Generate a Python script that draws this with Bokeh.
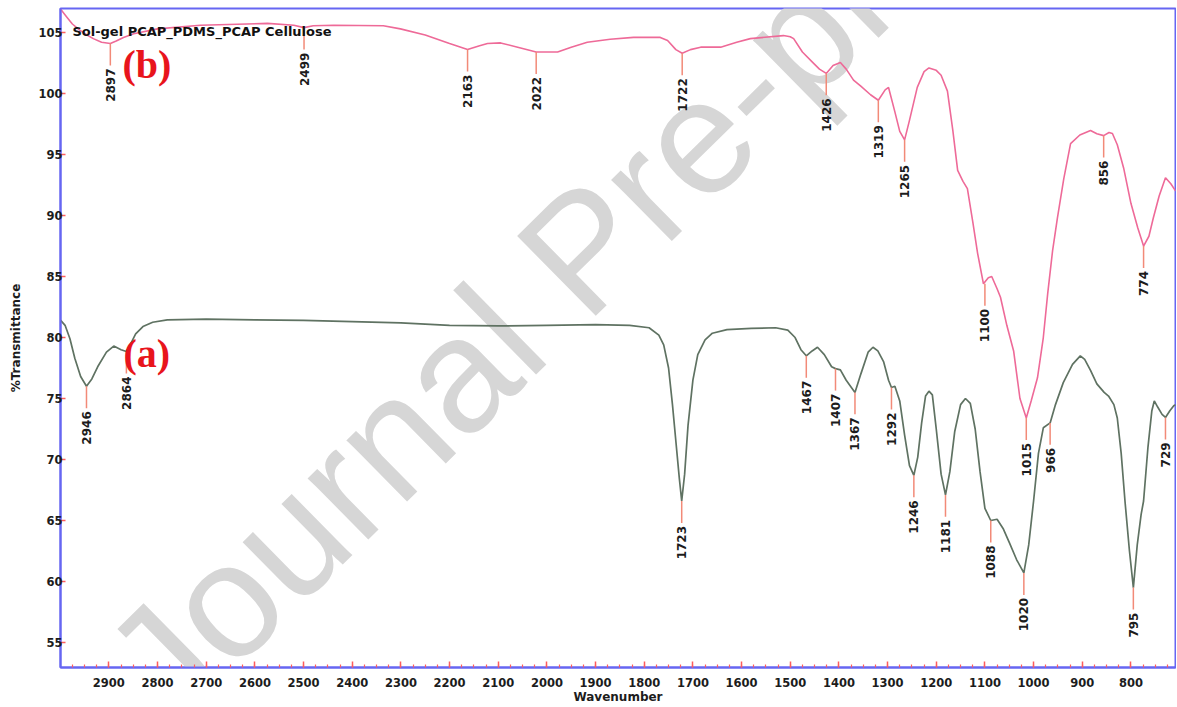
from bokeh.plotting import figure
from bokeh.models import Range1d, SingleIntervalTicker, FixedTicker, Label, ColumnDataSource
from bokeh.embed import file_html
from bokeh.resources import INLINE
from bokeh.core.properties import value
import math

# ---- (a) spectrum: wavenumber / %T ----
wn_a = [2999, 2990, 2980, 2970, 2958, 2946, 2935, 2923, 2905, 2890, 2875, 2864, 2855, 2845,
        2830, 2810, 2780, 2700, 2600, 2500, 2400, 2300, 2200, 2100, 2000, 1900, 1830, 1790,
        1770, 1760, 1750, 1742, 1735, 1728, 1723, 1717, 1710, 1700, 1690, 1675, 1660, 1630,
        1580, 1530, 1505, 1490, 1478, 1467, 1455, 1444, 1430, 1415, 1407, 1397, 1385, 1367,
        1355, 1340, 1330, 1320, 1308, 1298, 1292, 1285, 1275, 1265, 1255, 1246, 1238, 1230,
        1222, 1215, 1208, 1200, 1190, 1181, 1172, 1162, 1150, 1140, 1130, 1120, 1110, 1100,
        1088, 1075, 1062, 1050, 1035, 1020, 1010, 1000, 990, 980, 966, 955, 939, 920, 904,
        895, 883, 870, 855, 846, 835, 828, 820, 812, 803, 795, 787, 779, 774, 765, 757, 752,
        745, 736, 729, 720, 712, 708]
t_a = [81.4, 81.0, 79.9, 78.3, 76.8, 76.0, 76.6, 77.6, 78.8, 79.3, 79.0, 78.85, 79.5, 80.3,
       80.9, 81.25, 81.45, 81.5, 81.45, 81.4, 81.3, 81.2, 81.0, 80.95, 81.0, 81.05, 81.0, 80.8,
       80.2, 79.4, 77.5, 74.5, 71.5, 68.5, 66.6, 68.8, 72.8, 76.5, 78.6, 79.8, 80.35, 80.65,
       80.75, 80.8, 80.6, 80.0, 79.0, 78.5, 78.9, 79.2, 78.6, 77.6, 77.45, 77.35, 76.5, 75.5,
       77.0, 78.8, 79.2, 78.9, 78.0, 76.5, 75.9, 76.0, 74.8, 72.0, 69.5, 68.7, 70.2, 73.0,
       75.2, 75.6, 75.3, 72.5, 68.8, 67.1, 69.0, 72.3, 74.5, 75.0, 74.6, 72.5, 69.0, 66.0,
       65.0, 65.1, 64.3, 63.2, 61.8, 60.7, 63.0, 66.6, 70.5, 72.6, 73.0, 74.5, 76.3, 77.8, 78.5,
       78.2, 77.3, 76.2, 75.5, 75.2, 74.5, 73.4, 70.5, 66.5, 62.5, 59.5, 63.0, 65.5, 66.6, 71.0, 74.0, 74.8,
       74.3, 73.7, 73.45, 74.0, 74.4, 74.5]

# ---- (b) spectrum ----
wn_b = [2999, 2985, 2975, 2960, 2945, 2932, 2915, 2897, 2885, 2870, 2849, 2800, 2712, 2574,
        2520, 2499, 2480, 2438, 2336, 2301, 2250, 2200, 2163, 2140, 2122, 2095, 2060, 2022,
        1978, 1950, 1917, 1870, 1822, 1767, 1752, 1735, 1722, 1705, 1684, 1643, 1610, 1582,
        1514, 1500, 1493, 1475, 1455, 1440, 1426, 1412, 1397, 1385, 1370, 1355, 1335, 1319,
        1305, 1298, 1285, 1275, 1265, 1255, 1239, 1225, 1215, 1200, 1190, 1177, 1166, 1156,
        1145, 1136, 1125, 1115, 1103, 1093, 1086, 1075, 1068, 1055, 1041, 1028, 1015, 1005,
        992, 980, 971, 961, 951, 938, 924, 905, 883, 870, 856, 845, 838, 828, 815, 800, 786,
        774, 763, 754, 742, 729, 718, 708]
t_b = [106.9, 106.2, 105.7, 105.2, 104.8, 104.5, 104.2, 104.1, 104.3, 104.6, 104.9, 105.3,
       105.6, 105.75, 105.6, 105.4, 105.55, 105.6, 105.55, 105.3, 104.8, 104.1, 103.6, 103.9,
       104.1, 104.15, 103.8, 103.4, 103.4, 103.8, 104.2, 104.45, 104.6, 104.6, 104.35, 103.6,
       103.3, 103.6, 103.8, 103.8, 104.2, 104.5, 104.75, 104.65, 104.5, 103.4, 102.6, 102.0,
       101.65, 102.3, 102.55, 102.0, 101.1, 100.6, 99.9, 99.45, 100.3, 100.5, 98.5, 96.9,
       96.2, 97.8, 100.5, 101.8, 102.1, 101.9, 101.5, 100.2, 97.0, 93.7, 92.8, 92.2, 89.5,
       86.9, 84.4, 84.9, 85.0, 84.0, 83.3, 81.0, 78.9, 75.0, 73.4, 74.8, 76.7, 80.0, 83.6,
       87.1, 89.8, 93.0, 95.9, 96.6, 96.97, 96.7, 96.55, 96.8, 96.72, 95.8, 93.9, 91.0, 89.0,
       87.5, 88.3, 89.8, 91.6, 93.1, 92.6, 92.0]

# ---- peak picks ----
peaks_a_wn = [2946, 2864, 1723, 1467, 1407, 1367, 1292, 1246, 1181, 1088, 1020, 966, 795, 729]
peaks_a_t = [76.0, 78.85, 66.6, 78.5, 77.45, 75.5, 75.9, 68.7, 67.1, 65.0, 60.7, 73.0, 59.5, 73.45]
peaks_b_wn = [2897, 2499, 2163, 2022, 1722, 1426, 1319, 1265, 1100, 1015, 856, 774]
peaks_b_t = [104.1, 105.4, 103.6, 103.4, 103.3, 101.65, 99.45, 96.2, 84.4, 73.4, 96.55, 87.5]

y_ticks = [55, 60, 65, 70, 75, 80, 85, 90, 95, 100, 105]

title_text = "Sol-gel PCAP_PDMS_PCAP Cellulose"
x_title = "Wavenumber"
y_title = "%Transmittance"
watermark = "Journal Pre-proof"

BLUE = "#6666f2"
RED_TICK = "#ff5c5c"
LABEL_C = "#1c1c1c"
FONT = "DejaVu Sans"

p = figure(width=1176, height=706,
           x_range=Range1d(2999.4, 708.4), y_range=Range1d(52.95, 106.97),
           output_backend="svg", toolbar_location=None,
           min_border_left=60, min_border_right=1, min_border_top=8, min_border_bottom=39)
p.background_fill_color = "white"
p.border_fill_color = "white"
p.grid.visible = False
p.outline_line_color = BLUE
p.outline_line_width = 2

# axes
xa = p.xaxis[0]
xa.ticker = SingleIntervalTicker(interval=100, num_minor_ticks=4)
xa.axis_line_color = BLUE
xa.axis_line_width = 2
xa.major_tick_in = 6
xa.major_tick_out = 0
xa.minor_tick_in = 3
xa.minor_tick_out = 0
xa.major_tick_line_color = RED_TICK
xa.minor_tick_line_color = RED_TICK
xa.major_tick_line_width = 1.5
xa.minor_tick_line_width = 1.2
xa.major_label_standoff = 10
xa.major_label_text_font = FONT
xa.major_label_text_font_style = "bold"
xa.major_label_text_font_size = "11.5px"
xa.major_label_text_color = LABEL_C
xa.axis_label = x_title
xa.axis_label_standoff = 0
xa.axis_label_text_font = FONT
xa.axis_label_text_font_style = "bold"
xa.axis_label_text_font_size = "12px"
xa.axis_label_text_color = LABEL_C

ya = p.yaxis[0]
ya.ticker = FixedTicker(ticks=y_ticks)
ya.axis_line_color = BLUE
ya.axis_line_width = 2
ya.major_tick_in = 5
ya.major_tick_out = 0
ya.minor_tick_line_color = None
ya.major_tick_line_color = RED_TICK
ya.major_tick_line_width = 1.5
ya.major_label_standoff = -2
ya.major_label_text_font = FONT
ya.major_label_text_font_style = "bold"
ya.major_label_text_font_size = "11.5px"
ya.major_label_text_color = LABEL_C
ya.axis_label = y_title
ya.axis_label_standoff = 12
ya.axis_label_text_font = FONT
ya.axis_label_text_font_style = "bold"
ya.axis_label_text_font_size = "12px"
ya.axis_label_text_color = LABEL_C

# watermark (under the data)
p.add_layout(Label(x=2850, y=50.98, text=watermark, text_font="Liberation Sans",
                   text_font_size="163px", angle=0.777, text_color="#d6d6d6",
                   text_baseline="alphabetic", level="underlay"))

# spectra
p.line(wn_b, t_b, line_color="#ee6a98", line_width=1.6)
p.line(wn_a, t_a, line_color="#5f7262", line_width=1.7)

# peak markers
STEM = 1.8
for wns, ts in ((peaks_b_wn, peaks_b_t), (peaks_a_wn, peaks_a_t)):
    src = ColumnDataSource(dict(x=wns, y0=ts, y1=[t - STEM for t in ts],
                                txt=[str(w) for w in wns]))
    p.segment(x0="x", y0="y0", x1="x", y1="y1", source=src,
              line_color="#f28a78", line_width=1.5)
    p.text(x="x", y="y1", text="txt", source=src, angle=math.pi / 2,
           text_align="right", text_baseline="middle", y_offset=3,
           text_font=value(FONT), text_font_style="bold",
           text_font_size="12px", text_color=LABEL_C)

# title and curve tags
p.add_layout(Label(x=2975, y=105.08, text=title_text, text_font=FONT,
                   text_font_style="bold", text_font_size="13px",
                   text_color="#111111", text_baseline="alphabetic"))
p.add_layout(Label(x=2872, y=102.42, text="(b)", text_font="Liberation Serif",
                   text_font_style="bold", text_font_size="40px",
                   text_color="#e8141c", text_baseline="middle"))
p.add_layout(Label(x=2870, y=78.65, text="(a)", text_font="Liberation Serif",
                   text_font_style="bold", text_font_size="40px",
                   text_color="#e8141c", text_baseline="middle"))

open("out.html", "w").write(file_html(p, INLINE))
